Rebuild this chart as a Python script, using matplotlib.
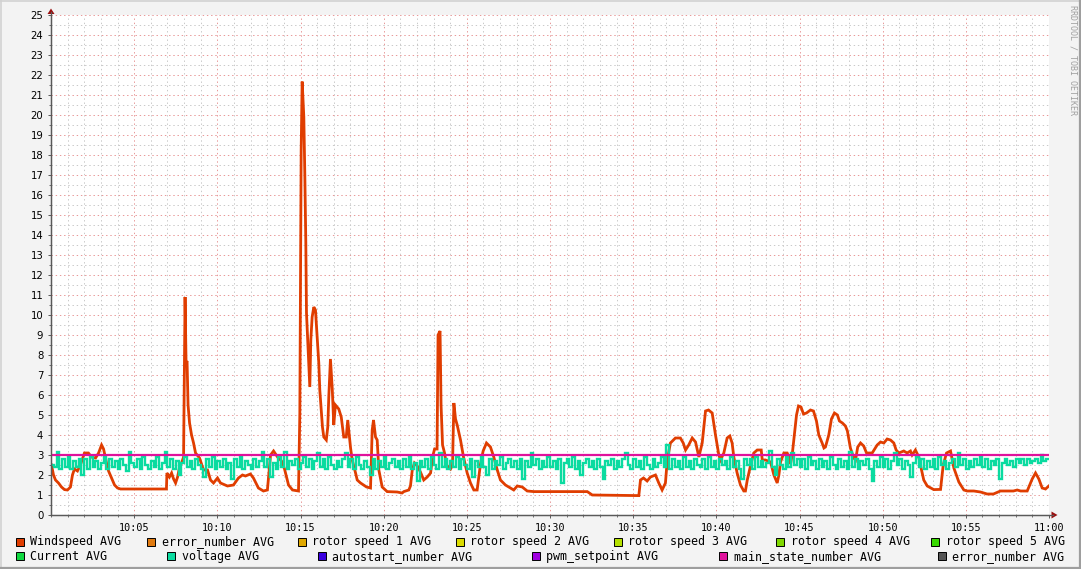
import matplotlib
matplotlib.use("Agg")
import matplotlib.pyplot as plt
from matplotlib.patches import Rectangle, Polygon
from matplotlib.lines import Line2D
import numpy as np

W, H = 1081, 569

# ---------------- data ----------------
x_tick_minutes = [5, 10, 15, 20, 25, 30, 35, 40, 45, 50, 55, 60]
x_tick_labels = ["10:05", "10:10", "10:15", "10:20", "10:25", "10:30",
                 "10:35", "10:40", "10:45", "10:50", "10:55", "11:00"]
y_ticks = list(range(0, 26))

# Windspeed AVG (minutes after 10:00, value)
wind_t = [0.03, 0.15, 0.27, 0.45, 0.63, 0.81, 0.99, 1.17, 1.29, 1.41, 1.59, 1.77,
          2.01, 2.25, 2.43, 2.68, 2.86, 3.04, 3.16, 3.34, 3.46, 3.64, 3.82, 4.00,
          4.18, 6.94, 6.97, 7.12, 7.25, 7.37, 7.49, 7.61, 7.73, 7.85, 7.97, 8.06,
          8.12, 8.18, 8.24, 8.33, 8.45, 8.57, 8.69, 8.93, 9.17, 9.41, 9.59, 9.77,
          10.01, 10.19, 10.61, 10.97, 11.27, 11.51, 11.69, 11.99, 12.17, 12.47,
          12.77, 13.01, 13.20, 13.38, 13.62, 13.86, 14.04, 14.28, 14.52, 14.88,
          14.96, 15.04, 15.10, 15.20, 15.26, 15.32, 15.36, 15.44, 15.56, 15.62,
          15.70, 15.80, 15.90, 16.00, 16.10, 16.16, 16.24, 16.32, 16.40, 16.55,
          16.64, 16.70, 16.80, 16.91, 17.00, 17.10, 17.30, 17.45, 17.60, 17.75,
          17.84, 17.90, 18.01, 18.11, 18.31, 18.41, 18.61, 18.97, 19.21, 19.31,
          19.39, 19.51, 19.61, 19.71, 19.91, 20.21, 20.81, 21.11, 21.21, 21.51,
          21.61, 21.72, 21.85, 22.02, 22.21, 22.41, 22.62, 22.82, 22.94, 23.06,
          23.21, 23.27, 23.39, 23.45, 23.54, 23.66, 23.78, 24.02, 24.14, 24.22,
          24.32, 24.42, 24.62, 24.80, 25.02, 25.22, 25.42, 25.62, 25.72, 25.82,
          25.98, 26.18, 26.42, 26.62, 26.83, 27.02, 27.32, 27.62, 27.82, 28.03,
          28.33, 28.63, 29.03, 32.24, 32.54, 35.34, 35.44, 35.62, 35.84, 36.04,
          36.34, 36.54, 36.74, 36.94, 37.05, 37.24, 37.54, 37.84, 38.01, 38.15,
          38.34, 38.55, 38.75, 38.95, 39.15, 39.35, 39.53, 39.75, 39.95, 40.15,
          40.25, 40.45, 40.65, 40.81, 40.95, 41.05, 41.25, 41.45, 41.65, 41.75,
          41.86, 42.05, 42.25, 42.46, 42.70, 42.76, 42.96, 43.26, 43.46, 43.66,
          43.76, 43.86, 44.06, 44.26, 44.36, 44.46, 44.56, 44.66, 44.82, 44.94,
          45.09, 45.24, 45.42, 45.66, 45.84, 46.02, 46.16, 46.36, 46.47, 46.56,
          46.76, 46.92, 47.10, 47.28, 47.40, 47.58, 47.76, 47.88, 48.06, 48.26,
          48.37, 48.50, 48.67, 48.86, 49.03, 49.37, 49.67, 49.87, 50.07, 50.27,
          50.47, 50.67, 50.81, 50.97, 51.27, 51.47, 51.67, 51.77, 51.97, 52.17,
          52.27, 52.47, 52.68, 53.07, 53.48, 53.64, 53.84, 54.08, 54.28, 54.58,
          54.88, 55.08, 55.48, 55.88, 56.28, 56.66, 57.08, 57.86, 58.09, 58.29,
          58.69, 58.99, 59.19, 59.39, 59.59, 59.79, 59.99]
wind_v = [2.5, 2.0, 1.75, 1.6, 1.4, 1.27, 1.25, 1.4, 2.0, 2.3, 2.2, 2.5,
          3.1, 3.1, 2.9, 2.85, 3.1, 3.5, 3.3, 2.6, 2.2, 1.85, 1.5, 1.35,
          1.3, 1.3, 2.1, 1.9, 2.1, 1.8, 1.6, 1.9, 2.4, 2.6, 2.9, 10.9,
          7.6, 7.7, 5.5, 4.6, 4.0, 3.6, 3.1, 2.85, 2.25, 2.25, 1.75, 1.6,
          1.85, 1.6, 1.45, 1.5, 1.85, 2.0, 1.95, 2.05, 1.85, 1.35,
          1.2, 1.25, 3.0, 3.2, 2.9, 2.7, 2.3, 1.5, 1.25, 1.2,
          5.1, 18.25, 21.67, 19.9, 17.0, 13.6, 10.1, 8.6, 6.4, 8.75,
          9.9, 10.4, 10.25, 8.9, 7.6, 6.25, 5.3, 4.4, 3.9, 3.75,
          4.4, 5.9, 7.8, 6.3, 4.5, 5.5, 5.3, 4.9, 3.9, 3.9,
          4.75, 4.25, 3.35, 2.75, 2.1, 1.75, 1.6, 1.4, 1.35, 4.25,
          4.75, 3.9, 3.75, 2.25, 1.4, 1.17, 1.15, 1.1, 1.17, 1.25,
          1.45, 2.25, 2.6, 2.45, 2.15, 1.75, 1.9, 2.1, 2.9, 3.3,
          3.3, 9.0, 9.2, 5.5, 3.5, 3.1, 2.5, 2.3, 2.5, 5.6,
          4.8, 4.5, 3.75, 2.9, 2.1, 1.6, 1.25, 1.25, 1.9, 2.55,
          3.2, 3.6, 3.4, 2.9, 2.25, 1.75, 1.5, 1.35, 1.25, 1.45,
          1.4, 1.2, 1.17, 1.17, 1.0, 0.97, 1.75, 1.85, 1.7, 1.9,
          2.0, 1.6, 1.25, 1.6, 2.75, 3.6, 3.85, 3.85, 3.6, 3.25,
          3.5, 3.85, 3.65, 2.9, 3.6, 5.2, 5.25, 5.1, 4.0, 3.0,
          2.75, 3.1, 3.85, 3.95, 3.6, 2.9, 2.1, 1.5, 1.2, 1.2,
          1.75, 2.45, 3.1, 3.25, 3.25, 2.75, 2.75, 2.65, 2.0, 1.6,
          2.0, 2.65, 3.1, 3.1, 2.9, 2.55, 3.0, 3.75, 5.0, 5.45,
          5.4, 5.05, 5.1, 5.25, 5.2, 4.7, 4.0, 3.6, 3.35, 3.4,
          4.0, 4.8, 5.1, 5.0, 4.7, 4.6, 4.45, 4.2, 3.35, 2.85,
          2.75, 3.4, 3.6, 3.45, 3.1, 3.1, 3.5, 3.65, 3.6, 3.8,
          3.75, 3.6, 3.25, 3.1, 3.2, 3.1, 3.2, 3.0, 3.25, 2.9,
          2.5, 1.75, 1.45, 1.27, 1.28, 2.5, 3.1, 3.2, 2.35, 1.65,
          1.25, 1.2, 1.2, 1.15, 1.05, 1.05, 1.2, 1.2, 1.25, 1.2,
          1.2, 1.8, 2.1, 1.8, 1.35, 1.3, 1.45]

# voltage AVG, one value every 10 s starting 10:00 (one row per minute)
voltage_step_min = 1 / 6
voltage_v = [
    2.5, 2.4, 3.15, 2.3, 2.8, 2.4,   2.9, 2.3, 2.7, 2.4, 2.8, 2.0,
    2.8, 2.3, 2.9, 2.4, 2.7, 2.3,   2.6, 2.9, 2.3, 2.8, 2.4, 2.7,
    2.3, 2.8, 2.5, 2.2, 3.15, 2.6,  2.4, 2.8, 2.3, 2.9, 2.5, 2.3,
    2.7, 2.4, 2.9, 2.3, 2.6, 3.15,  2.4, 2.8, 2.3, 2.7, 2.0, 2.6,
    2.9, 2.4, 2.7, 2.3, 2.8, 2.5,   2.3, 1.9, 2.8, 2.4, 2.9, 2.3,
    2.7, 2.4, 2.8, 2.3, 2.6, 1.8,   2.8, 2.4, 2.9, 2.3, 2.7, 2.5,
    2.3, 2.8, 2.4, 2.7, 3.15, 2.4,  2.8, 1.9, 2.6, 2.3, 2.9, 2.4,
    3.15, 2.3, 2.7, 2.5, 2.8, 2.3,  2.6, 2.9, 2.4, 2.8, 2.3, 2.7,
    3.1, 2.4, 2.8, 2.3, 2.9, 2.5,   2.3, 2.7, 2.4, 2.8, 3.1, 2.4,
    2.8, 2.3, 2.9, 2.5, 2.3, 2.7,   2.4, 2.0, 2.8, 2.3, 2.7, 2.4,
    2.9, 2.3, 2.6, 2.8, 2.4, 2.7,   2.3, 2.8, 2.4, 2.9, 2.3, 2.6,
    1.7, 2.7, 2.4, 2.8, 2.3, 2.9,   2.5, 2.3, 3.1, 2.4, 2.8, 2.3,
    2.7, 2.4, 2.9, 2.3, 2.8, 2.5,   2.3, 2.8, 1.9, 2.7, 2.4, 2.9,
    2.4, 2.0, 2.8, 2.3, 2.7, 2.5,   2.9, 2.3, 2.6, 2.8, 2.4, 2.7,
    2.3, 2.8, 1.8, 2.7, 2.4, 3.1,   2.5, 2.8, 2.3, 2.7, 2.4, 2.9,
    2.4, 2.7, 2.3, 2.8, 1.6, 2.6,   2.8, 2.4, 2.9, 2.3, 2.7, 2.0,
    2.6, 2.8, 2.4, 2.7, 2.3, 2.8,   2.4, 1.8, 2.7, 2.5, 2.8, 2.3,
    2.7, 2.4, 2.8, 3.1, 2.5, 2.3,   2.8, 2.4, 2.7, 2.3, 2.9, 2.5,
    2.3, 2.8, 2.4, 2.6, 2.9, 2.4,   3.5, 2.3, 2.8, 2.4, 2.7, 2.3,
    2.9, 2.4, 2.7, 2.3, 2.8, 2.5,   2.4, 2.8, 2.3, 2.9, 2.4, 2.7,
    2.3, 2.8, 2.5, 2.7, 2.3, 2.9,   2.4, 2.7, 2.3, 1.8, 2.8, 2.5,
    2.8, 2.3, 2.9, 2.4, 2.7, 2.4,   2.6, 3.2, 2.4, 2.0, 2.8, 2.5,
    2.3, 2.9, 2.4, 3.1, 2.5, 2.8,   2.4, 2.8, 2.3, 2.9, 2.5, 2.7,
    2.3, 2.8, 2.4, 2.7, 2.3, 2.9,   2.5, 2.3, 2.8, 2.4, 2.7, 2.3,
    3.15, 2.4, 2.8, 2.3, 2.7, 2.5,  2.8, 2.3, 1.7, 2.7, 2.4, 2.9,
    2.4, 2.8, 2.3, 2.7, 3.1, 2.5,   2.8, 2.3, 2.7, 2.5, 1.9, 2.6,
    2.9, 2.4, 2.8, 2.3, 2.7, 2.4,   2.8, 2.3, 2.9, 2.5, 2.7, 2.3,
    2.6, 2.8, 2.4, 3.1, 2.5, 2.8,   2.3, 2.7, 2.4, 2.8, 2.5, 2.9,
    2.4, 2.8, 2.3, 2.7, 2.5, 2.8,   1.8, 2.6, 2.8, 2.5, 2.7, 2.4,
    2.8, 2.6, 2.8, 2.5, 2.8, 2.6,   2.7, 2.8, 2.6, 3.0, 2.7, 2.8,
]

# main_state_number AVG
main_state_t = [0, 60]
main_state_v = [3.0, 3.0]

legend_row1 = ["Windspeed AVG", "error_number AVG", "rotor speed 1 AVG",
               "rotor speed 2 AVG", "rotor speed 3 AVG", "rotor speed 4 AVG",
               "rotor speed 5 AVG"]
legend_row1_colors = ["#E03D00", "#E07A10", "#E0A800", "#DCDC00",
                      "#B4E000", "#80D800", "#38D800"]
legend_row2 = ["Current AVG", "voltage AVG", "autostart_number AVG",
               "pwm_setpoint AVG", "main_state_number AVG", "error_number AVG"]
legend_row2_colors = ["#10D840", "#0ADBA0", "#3A00E0", "#A000E0",
                      "#E0119C", "#555555"]

# ---------------- drawing ----------------
def fx(x):
    return x / W

def fy(y):
    return 1 - y / H

fig = plt.figure(figsize=(W / 100, H / 100), dpi=100, facecolor="#F3F3F3")

# outer shaded border
fig.add_artist(Line2D([fx(0), fx(W)], [fy(0.5), fy(0.5)], color="#D2D2D2", lw=1.2))
fig.add_artist(Line2D([fx(0.5), fx(0.5)], [fy(0), fy(H)], color="#D2D2D2", lw=1.2))
fig.add_artist(Line2D([fx(0), fx(W)], [fy(H - 1), fy(H - 1)], color="#9E9E9E", lw=1.6))
fig.add_artist(Line2D([fx(W - 1), fx(W - 1)], [fy(0), fy(H)], color="#9E9E9E", lw=1.6))

ax = fig.add_axes([fx(51), fy(515), 998 / W, 500 / H])
ax.set_xlim(0, 60)
ax.set_ylim(0, 25)
ax.set_facecolor("white")

dot = (0, (1.4, 2.8))
for m in range(1, 61):
    if m % 5 == 0:
        continue
    ax.axvline(m, color="#CACACA", lw=0.72, ls=dot, zorder=0)
for k in range(1, 50, 2):
    ax.axhline(k / 2, color="#CACACA", lw=0.72, ls=dot, zorder=0)
for m in x_tick_minutes:
    ax.axvline(m, color="#E89A9A", lw=0.72, ls=dot, zorder=0.5)
for v in y_ticks[1:]:
    ax.axhline(v, color="#E89A9A", lw=0.72, ls=dot, zorder=0.5)

# series
ax.plot(wind_t, wind_v, color="#E03D00", lw=2.0, solid_joinstyle="miter", zorder=3)
vt = np.arange(len(voltage_v) + 1) * voltage_step_min
ax.step(vt, list(voltage_v) + [voltage_v[-1]], where="post", color="#0ADBA0",
        lw=1.7, solid_joinstyle="miter", zorder=4)
ax.plot(main_state_t, main_state_v, color="#E0119C", lw=1.6, zorder=5)

for s in ["top", "right"]:
    ax.spines[s].set_visible(False)
for s in ["left", "bottom"]:
    ax.spines[s].set_color("#5A5A5A")
    ax.spines[s].set_linewidth(0.9)
    ax.spines[s].set_zorder(6)

ax.set_xticks(x_tick_minutes)
ax.set_xticklabels(x_tick_labels, fontfamily="DejaVu Sans Mono", fontsize=7.3)
ax.set_xticks(range(0, 61), minor=True)
ax.set_yticks(y_ticks)
ax.set_yticklabels([str(v) for v in y_ticks], fontfamily="DejaVu Sans", fontsize=7.3)
ax.set_yticks([k / 2 for k in range(0, 51)], minor=True)
ax.tick_params(axis="both", which="major", length=2.5, width=0.7, color="#5A5A5A",
               pad=3, labelcolor="black")
ax.tick_params(axis="both", which="minor", length=1.5, width=0.6, color="#5A5A5A")

# axis arrows
fig.add_artist(Line2D([fx(51), fx(51)], [fy(515), fy(12)], color="#5A5A5A", lw=0.9))
fig.add_artist(Line2D([fx(51), fx(1053)], [fy(515), fy(515)], color="#5A5A5A", lw=0.9))
fig.add_artist(Polygon([[fx(47.5), fy(14)], [fx(54.5), fy(14)], [fx(51), fy(8.5)]],
                       closed=True, color="#9A1010", lw=0))
fig.add_artist(Polygon([[fx(1051.5), fy(511.5)], [fx(1051.5), fy(518.5)], [fx(1057.5), fy(515)]],
                       closed=True, color="#9A1010", lw=0))

# watermark
fig.text(fx(1072.5), fy(5), "RRDTOOL / TOBI OETIKER", rotation=-90, ha="center", va="top",
         fontfamily="DejaVu Sans Mono", fontsize=6.0, color="#A0A0A0")

# legend
row1_sq = [15.5, 147, 297.5, 456, 614, 776, 931]
row2_sq = [15.5, 167, 318, 532, 719, 938]

def legend_row(xs, labels, colors, yc):
    for xs_, lab, col in zip(xs, labels, colors):
        fig.add_artist(Rectangle((fx(xs_), fy(yc + 4)), 8 / W, 8 / H,
                                 facecolor=col, edgecolor="black", lw=0.7))
        fig.text(fx(xs_ + 14.5), fy(yc + 0.5), lab, ha="left", va="center",
                 fontfamily="DejaVu Sans Mono", fontsize=8.4, color="black")

legend_row(row1_sq, legend_row1, legend_row1_colors, 541.5)
legend_row(row2_sq, legend_row2, legend_row2_colors, 556)

fig.savefig("out.png", dpi=100, facecolor=fig.get_facecolor())
